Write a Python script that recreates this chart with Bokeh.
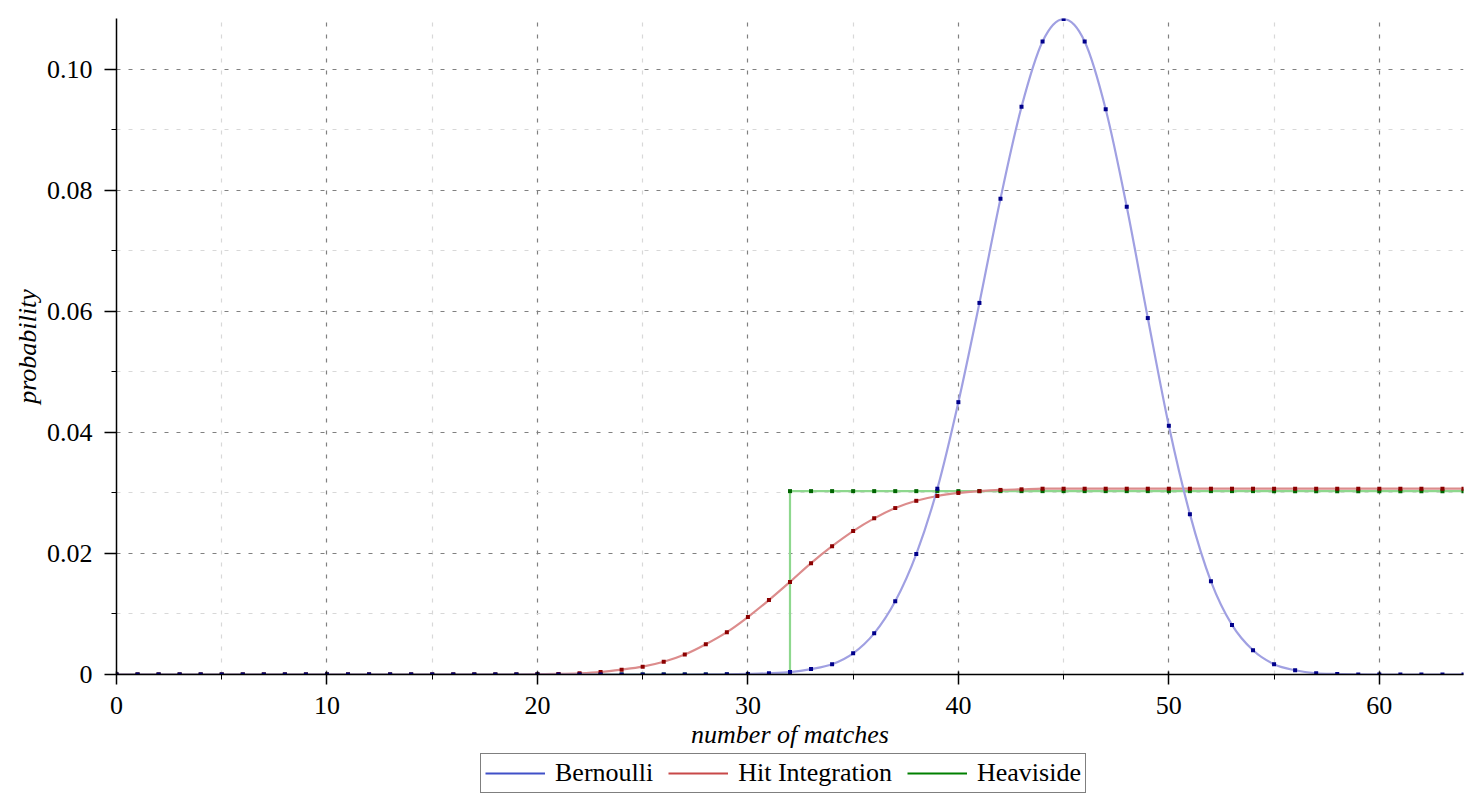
from bokeh.plotting import figure
from bokeh.layouts import column
from bokeh.models import (Range1d, FixedTicker, CustomJSTickFormatter, Legend,
                          LegendItem, ColumnDataSource)
from bokeh.embed import file_html
from bokeh.resources import INLINE

# ---------------- data ----------------
matches = [0, 1, 2, 3, 4, 5, 6, 7, 8, 9, 10, 11, 12, 13, 14, 15, 16, 17, 18, 19,
           20, 21, 22, 23, 24, 25, 26, 27, 28, 29, 30, 31, 32, 33, 34, 35, 36, 37, 38, 39,
           40, 41, 42, 43, 44, 45, 46, 47, 48, 49, 50, 51, 52, 53, 54, 55, 56, 57, 58, 59,
           60, 61, 62, 63, 64]

bernoulli = [0, 0, 0, 0, 0, 0, 0, 0, 0, 0,
             0, 0, 0, 0, 0, 0, 0, 0, 0, 0,
             0, 0, 0, 0, 0, 0, 0, 0, 0.00001, 0.00003,
             0.0001, 0.0002, 0.0004, 0.0009, 0.0017, 0.0035, 0.0068, 0.0121, 0.0199, 0.0307,
             0.0450, 0.0614, 0.0786, 0.0938, 0.1046, 0.1083, 0.1046, 0.0934, 0.0773, 0.0589,
             0.0411, 0.0265, 0.0154, 0.0082, 0.0040, 0.0017, 0.0007, 0.0002, 0.0001, 0.00002,
             0, 0, 0, 0, 0]

hit_integration = [0, 0, 0, 0, 0, 0, 0, 0, 0, 0,
                   0, 0, 0, 0, 0, 0, 0, 0, 0, 0,
                   0.00005, 0.0001, 0.0002, 0.0004, 0.0008, 0.0013, 0.0021, 0.0033, 0.0050, 0.0070,
                   0.0095, 0.0123, 0.0153, 0.0184, 0.0212, 0.0237, 0.0258, 0.0275, 0.0287, 0.0295,
                   0.0300, 0.0303, 0.0305, 0.0306, 0.0307, 0.0307, 0.0307, 0.0307, 0.0307, 0.0307,
                   0.0307, 0.0307, 0.0307, 0.0307, 0.0307, 0.0307, 0.0307, 0.0307, 0.0307, 0.0307,
                   0.0307, 0.0307, 0.0307, 0.0307, 0.0307]

heaviside = [0, 0, 0, 0, 0, 0, 0, 0, 0, 0,
             0, 0, 0, 0, 0, 0, 0, 0, 0, 0,
             0, 0, 0, 0, 0, 0, 0, 0, 0, 0,
             0, 0, 0.0303, 0.0303, 0.0303, 0.0303, 0.0303, 0.0303, 0.0303, 0.0303,
             0.0303, 0.0303, 0.0303, 0.0303, 0.0303, 0.0303, 0.0303, 0.0303, 0.0303, 0.0303,
             0.0303, 0.0303, 0.0303, 0.0303, 0.0303, 0.0303, 0.0303, 0.0303, 0.0303, 0.0303,
             0.0303, 0.0303, 0.0303, 0.0303, 0.0303]

x_major = [0, 10, 20, 30, 40, 50, 60]
x_minor = [5, 15, 25, 35, 45, 55]
y_major = [0, 0.02, 0.04, 0.06, 0.08, 0.10]
y_minor = [0.01, 0.03, 0.05, 0.07, 0.09]

series_labels = ["Bernoulli", "Hit Integration", "Heaviside"]
x_label = "number of matches"
y_label = "probability"

FONT = "Liberation Serif"


def smooth_segments(xs, ys):
    """Cubic (Catmull-Rom) Bezier pieces through the given points, for a smooth stroke."""
    n = len(xs)
    seg = dict(x0=[], y0=[], x1=[], y1=[], cx0=[], cy0=[], cx1=[], cy1=[])
    for i in range(n - 1):
        a = max(i - 1, 0)
        d = min(i + 2, n - 1)
        seg["x0"].append(xs[i]); seg["y0"].append(ys[i])
        seg["x1"].append(xs[i + 1]); seg["y1"].append(ys[i + 1])
        seg["cx0"].append(xs[i] + (xs[i + 1] - xs[a]) / 6.0)
        seg["cy0"].append(ys[i] + (ys[i + 1] - ys[a]) / 6.0)
        seg["cx1"].append(xs[i + 1] - (xs[d] - xs[i]) / 6.0)
        seg["cy1"].append(ys[i + 1] - (ys[d] - ys[i]) / 6.0)
    return ColumnDataSource(seg)


# ---------------- main figure ----------------
src = ColumnDataSource(dict(x=matches, b=bernoulli, h=hit_integration, s=heaviside))

p = figure(width=1480, height=751,
           x_range=Range1d(0, 64), y_range=Range1d(0, 0.1084),
           output_backend="svg", toolbar_location=None,
           min_border_left=116, min_border_right=17,
           min_border_top=18, min_border_bottom=75)
p.outline_line_color = None
p.background_fill_color = "white"

xt = FixedTicker(ticks=x_major, minor_ticks=x_minor)
yt = FixedTicker(ticks=y_major, minor_ticks=y_minor)
p.xaxis.ticker = xt
p.yaxis.ticker = yt
p.xgrid.ticker = xt
p.ygrid.ticker = yt

for g in (p.xgrid, p.ygrid):
    g.grid_line_color = "#808080"
    g.grid_line_dash = "4 8"
    g.grid_line_width = 1.2
    g.minor_grid_line_color = "#d8d8d8"
    g.minor_grid_line_dash = "4 8"
    g.minor_grid_line_width = 1.2

for ax in (p.xaxis, p.yaxis):
    ax.axis_line_color = "black"
    ax.axis_line_width = 1.5
    ax.major_tick_line_color = "black"
    ax.major_tick_line_width = 1.5
    ax.minor_tick_line_color = "black"
    ax.minor_tick_line_width = 1
    ax.major_label_text_font = FONT
    ax.major_label_text_font_size = "26px"
    ax.major_label_text_color = "black"
    ax.axis_label_text_font = FONT
    ax.axis_label_text_font_size = "26px"
    ax.axis_label_text_font_style = "italic"
    ax.axis_label_text_color = "black"

p.xaxis.axis_label = x_label
p.xaxis.major_tick_in = 3
p.xaxis.major_tick_out = 10
p.xaxis.minor_tick_in = 0
p.xaxis.minor_tick_out = 5
p.xaxis.major_label_standoff = 12
p.xaxis.axis_label_standoff = 3

p.yaxis.axis_label = y_label
p.yaxis.major_tick_in = 0
p.yaxis.major_tick_out = 12
p.yaxis.minor_tick_in = 0
p.yaxis.minor_tick_out = 5
p.yaxis.major_label_standoff = 12
p.yaxis.axis_label_standoff = 2
p.yaxis.formatter = CustomJSTickFormatter(code="return tick == 0 ? '0' : tick.toFixed(2);")

# curves
p.step(x="x", y="s", source=src, mode="after", line_color="#8ed88e", line_width=2.2)
p.bezier(x0="x0", y0="y0", x1="x1", y1="y1", cx0="cx0", cy0="cy0", cx1="cx1", cy1="cy1",
         source=smooth_segments(matches, hit_integration),
         line_color="#dc8c8c", line_width=2.2, line_cap="round")
p.bezier(x0="x0", y0="y0", x1="x1", y1="y1", cx0="cx0", cy0="cy0", cx1="cx1", cy1="cy1",
         source=smooth_segments(matches, bernoulli),
         line_color="#a0a0e2", line_width=2.2, line_cap="round")

# point markers
p.scatter(x="x", y="s", source=src, marker="square", size=4,
          fill_color="#006400", line_color=None)
p.scatter(x="x", y="h", source=src, marker="square", size=4,
          fill_color="#8b0000", line_color=None)
p.scatter(x="x", y="b", source=src, marker="square", size=4,
          fill_color="#00008b", line_color=None)

# ---------------- legend strip ----------------
lg = figure(width=1480, height=43, x_range=Range1d(0, 1), y_range=Range1d(0, 1),
            output_backend="svg", toolbar_location=None, min_border=0)
lg.axis.visible = False
lg.grid.visible = False
lg.outline_line_color = None

nan = float("nan")
lb = lg.line(x=[nan], y=[nan], line_color="#4050c8", line_width=2)
lh = lg.line(x=[nan], y=[nan], line_color="#c84848", line_width=2)
ls = lg.line(x=[nan], y=[nan], line_color="#008000", line_width=2)

legend = Legend(items=[LegendItem(label=series_labels[0], renderers=[lb]),
                       LegendItem(label=series_labels[1], renderers=[lh]),
                       LegendItem(label=series_labels[2], renderers=[ls])],
                orientation="horizontal", location=(364, 1),
                border_line_color="black", border_line_width=1.2,
                background_fill_color="white", background_fill_alpha=1,
                label_text_font=FONT, label_text_font_size="26px",
                label_text_color="black",
                glyph_width=60, glyph_height=20, label_standoff=10,
                spacing=15, padding=4, margin=0)
lg.add_layout(legend, "center")

layout = column(p, lg, spacing=0)
open("out.html", "w").write(file_html(layout, INLINE))
